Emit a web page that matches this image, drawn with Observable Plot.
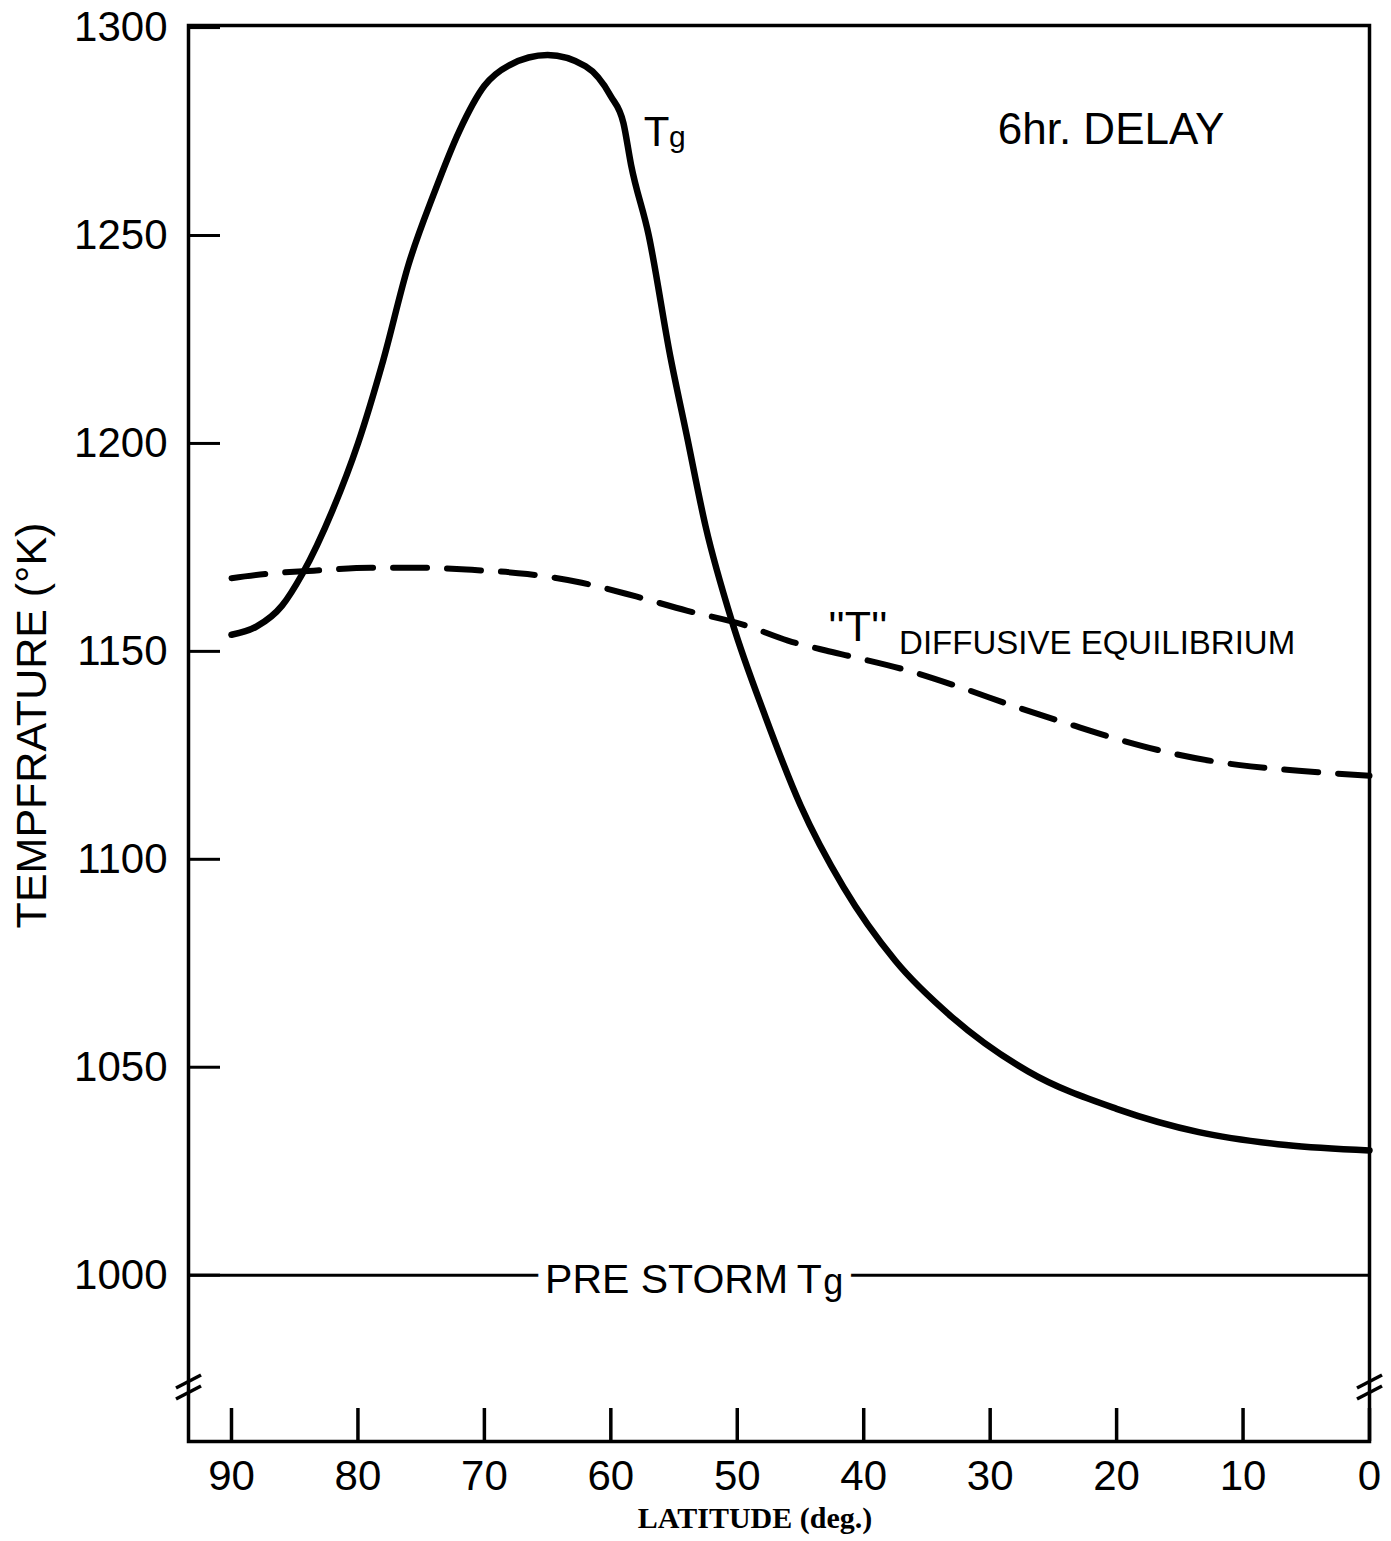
<!DOCTYPE html>
<html><head><meta charset="utf-8">
<script src="https://cdn.jsdelivr.net/npm/d3@7"></script>
<script src="https://cdn.jsdelivr.net/npm/@observablehq/plot@0.6"></script>
<style>body{margin:0;background:#fff} svg{display:block}</style>
</head><body><div id="chart"></div>
<script>
// Tg (solid) curve: latitude (deg) and temperature (K)
const tgLat  = [90, 88, 86, 84.4, 82, 80, 78, 76, 74, 72, 70, 68, 65, 62, 60, 59, 58.4, 57, 55.3, 54, 52.5, 50.4, 47.8, 45, 41.6, 37.5, 33, 27, 20, 13.5, 6.6, 0];
const tgTemp = [1154, 1156, 1161, 1168.6, 1184, 1200, 1220, 1243, 1260, 1275, 1286, 1291, 1293.4, 1290.7, 1283.5, 1277, 1267, 1250, 1221, 1202, 1180, 1157, 1134.5, 1113, 1093.3, 1075.6, 1062, 1049, 1040, 1034.4, 1031.3, 1030];
// "T" diffusive equilibrium (dashed)
const deLat  = [90, 87, 83.5, 79, 75, 71, 66.6, 62.3, 58, 54, 49.4, 46, 43, 40.9, 36.4, 32.3, 28.2, 23.75, 19.6, 15.2, 10.4, 5.6, 0];
const deTemp = [1167.6, 1168.7, 1169.4, 1170.1, 1170.1, 1169.6, 1168.6, 1166.5, 1163.2, 1159.8, 1156.3, 1152.6, 1150.2, 1148.7, 1145.3, 1141.3, 1136.9, 1132.5, 1128.6, 1125.2, 1122.7, 1121.3, 1120.1];
const latTicks  = [90, 80, 70, 60, 50, 40, 30, 20, 10, 0];
const tempTicks = [1000, 1050, 1100, 1150, 1200, 1250, 1300];
const preStormTemp = 1000;
const latDomain  = [93.4, 0];
const tempDomain = [960, 1300.5];
const breakTemp = 973;

const tg = tgLat.map((lat, i) => ({lat, temp: tgTemp[i]}));
const de = deLat.map((lat, i) => ({lat, temp: deTemp[i]}));

const sans = "Liberation Sans, Arial, Helvetica, sans-serif";
const serif = "Liberation Serif, Times New Roman, serif";

function breakMarks(index, scales) {
  const g = d3.create("svg:g").attr("stroke", "black").attr("stroke-width", 3.5).attr("fill", "none");
  const y = scales.y(breakTemp);
  for (const lv of latDomain) {
    const x = scales.x(lv);
    for (const off of [-5.5, 5.5]) {
      g.append("line").attr("x1", x - 12).attr("y1", y + off + 6.5).attr("x2", x + 13).attr("y2", y + off - 6.5);
    }
  }
  return g.node();
}

const halo = {fill: "black", stroke: "white", strokeWidth: 20, paintOrder: "stroke", textAnchor: "start", lineAnchor: "bottom"};

const chart = Plot.plot({
  width: 1391, height: 1541,
  marginLeft: 188, marginRight: 22, marginTop: 25, marginBottom: 100,
  style: {fontFamily: sans, fontSize: "42px", color: "black", background: "white"},
  x: {domain: latDomain, label: null},
  y: {domain: tempDomain, label: null},
  marks: [
    Plot.ruleY([preStormTemp], {stroke: "black", strokeWidth: 3}),
    Plot.line(de, {x: "lat", y: "temp", curve: "monotone-x", stroke: "black", strokeWidth: 6, strokeDasharray: "34,20", strokeLinecap: "round"}),
    Plot.line(tg, {x: "lat", y: "temp", curve: "monotone-x", stroke: "black", strokeWidth: 6.5}),
    Plot.frame({stroke: "black", strokeWidth: 3.5}),
    Plot.axisX(latTicks, {tickSize: -33, text: null, strokeWidth: 3.5, label: null}),
    Plot.axisX(latTicks, {tickSize: 0, tickPadding: 19, fontSize: 42, tickFormat: d => String(d), label: null}),
    Plot.axisY(tempTicks, {tickSize: -32, text: null, strokeWidth: 3, label: null}),
    Plot.axisY(tempTicks, {tickSize: 0, tickPadding: 21, fontSize: 42, tickFormat: d => String(d), label: null}),
    breakMarks,
    // labels
    Plot.text(["PRE STORM"], {x: 65.2, y: preStormTemp, text: d => d, dy: 18, fontSize: 41, ...halo}),
    Plot.text(["T"], {x: 45.3, y: preStormTemp, text: d => d, dy: 18, fontSize: 41, ...halo}),
    Plot.text(["g"], {x: 43.2, y: preStormTemp, text: d => d, dy: 19, fontSize: 36, ...halo}),
    Plot.text(["T"], {x: 57.4, y: 1271.6, text: d => d, textAnchor: "start", lineAnchor: "bottom", fontSize: 42}),
    Plot.text(["g"], {x: 55.4, y: 1271.6, text: d => d, textAnchor: "start", lineAnchor: "bottom", dy: 1, fontSize: 30}),
    Plot.text(["6hr. DELAY"], {x: 29.4, y: 1272.1, text: d => d, textAnchor: "start", lineAnchor: "bottom", fontSize: 44}),
    Plot.text(["''T''"], {x: 42.8, y: 1152.6, text: d => d, textAnchor: "start", lineAnchor: "bottom", fontSize: 43}),
    Plot.text(["DIFFUSIVE EQUILIBRIUM"], {x: 37.2, y: 1149.3, text: d => d, textAnchor: "start", lineAnchor: "bottom", fontSize: 33}),
    Plot.text(["TEMPFRATURE (°K)"], {frameAnchor: "left", text: d => d, rotate: -90, dx: -156, dy: -8, fontSize: 43, textAnchor: "middle", lineAnchor: "middle"}),
    Plot.text(["LATITUDE (deg.)"], {frameAnchor: "bottom", text: d => d, dx: -24, dy: 86, lineAnchor: "bottom", fontFamily: serif, fontWeight: "bold", fontSize: 30})
  ]
});
document.getElementById("chart").append(chart);
</script>
</body></html>
